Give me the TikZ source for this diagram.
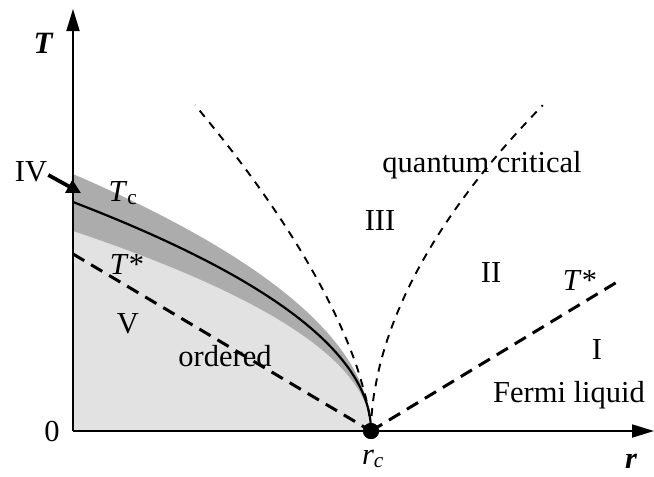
\documentclass[tikz,border=0pt]{standalone}
\usepackage{fontspec}
\setmainfont{Liberation Serif}
\usetikzlibrary{arrows.meta}
\definecolor{bandgray}{RGB}{172,172,172}
\definecolor{lightgray}{RGB}{226,226,226}
\begin{document}
\begin{tikzpicture}[x=1pt,y=-1pt,
  lbl/.style={inner sep=0pt,font=\fontsize{30.5}{31}\selectfont},
  axis/.style={line width=1.8pt,-{Triangle[length=22pt,width=13pt]}},
  thickdash/.style={line width=3pt,dash pattern=on 13pt off 8pt},
  thindash/.style={line width=1.9pt,dash pattern=on 8pt off 7pt}]
\useasboundingbox (0,0) rectangle (654,477);
% regions
\fill[lightgray] (73,431) -- plot[domain=0:1,samples=60] ({371-298*\x*\x},{431-200*\x}) -- cycle;
\fill[bandgray] plot[domain=0:1,samples=60] ({371-298*\x*\x},{431-257*\x})
   -- plot[domain=1:0,samples=60] ({371-298*\x*\x},{431-200*\x}) -- cycle;
% coordinates
\coordinate (O) at (73,431);
\coordinate (Ttip) at (73,9);
\coordinate (rtip) at (654,431);
\coordinate (tsL) at (73,254);
\coordinate (tsR) at (622,279);
\coordinate (ivtip) at (81,193);
\node[circle,fill=black,inner sep=0pt,minimum size=16pt] (rc) at (371,431) {};
% Tc line
\draw[line width=2.2pt] plot[domain=0:1,samples=80] ({371-298*\x*\x},{431-229*\x});
% T* lines
\draw[thickdash] (tsL) -- (rc.center);
\draw[thickdash] (rc.center) -- (tsR);
% crossover lines
\draw[thindash] (rc.center) -- plot[domain=0.02:1,samples=50] ({371-176*pow(\x,1.55)},{431-326*\x});
\draw[thindash] (rc.center) -- plot[domain=0.02:1,samples=50] ({371+172*pow(\x,1.85)},{431-326*\x});
% axes
\draw[axis] (O) -- (Ttip);
\draw[axis] (O) -- (rtip);
\node[circle,fill=black,inner sep=0pt,minimum size=16pt] at (rc) {};
% labels
\node[lbl,font=\fontsize{31}{32}\selectfont\bfseries\itshape] (Tlab) at (43,43) {T};
\node[lbl] (zero) at (52,432) {0};
\node[lbl] (rclab) at (373,459) {\textit{r}\textsubscript{\textit{c}}};
\node[lbl,font=\fontsize{30.5}{31}\selectfont\bfseries\itshape] (rlab) at (631,461) {r};
\node[lbl] (IV) at (31,172) {IV};
\draw[line width=3.8pt,-{Triangle[length=14pt,width=14pt]}] (IV.east) ++(1,3) coordinate (ivs) (ivs) -- (ivtip);
\node[lbl] (Tc) at (123,193) {\textit{T}\textsubscript{c}};
\node[lbl] (TsL) at (127,265) {\textit{T}*};
\node[lbl] (V) at (128,324) {V};
\node[lbl] (ordered) at (225,356) {ordered};
\node[lbl] (III) at (380,221) {III};
\node[lbl] (qc) at (482,165) {quantum critical};
\node[lbl] (II) at (491,273) {II};
\node[lbl] (TsR) at (580,281) {\textit{T}*};
\node[lbl] (I) at (597,350) {I};
\node[lbl] (FL) at (569,395) {Fermi liquid};
\end{tikzpicture}
\end{document}
